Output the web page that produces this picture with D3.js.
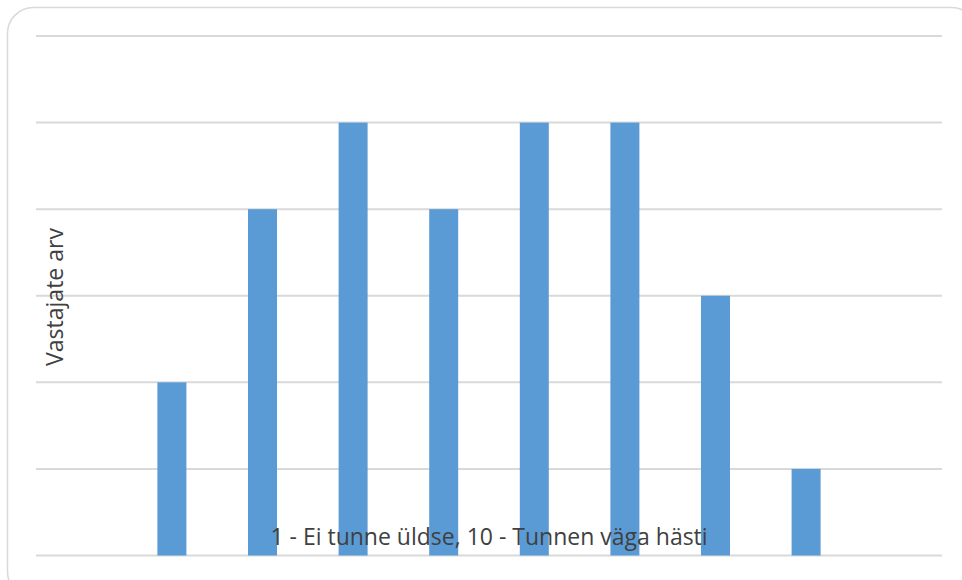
<!DOCTYPE html>
<html>
    <head>
        <meta charset="utf-8">
        <title>Vastajate arv</title>
        <script src="https://d3js.org/d3.v7.min.js" charset="utf-8"></script>
        <style type="text/css">
        body {
            margin: 0;
            background: white;
        }
        svg text {
            font-family: 'Open Sans', 'Noto Sans', sans-serif;
            fill: #404040;
        }
        </style>
    </head>
    <body>
        <script type="text/javascript">
        // answers 1..10, respondents per answer
        var categories = ['1', '2', '3', '4', '5', '6', '7', '8', '9', '10'];
        var counts = [0, 2, 4, 5, 4, 5, 5, 3, 1, 0];
        var yTicks = [0, 1, 2, 3, 4, 5, 6];

        var xTitle = '1 - Ei tunne üldse, 10 - Tunnen väga hästi';
        var yTitle = 'Vastajate arv';

        var w = 962;
        var h = 580;
        var margin = {left: 36, right: 20, top: 36, bottom: 24.5};

        var svg = d3.select('body')
          .append('svg')
          .attr('width', w)
          .attr('height', h);

        // chart frame, runs off the right and bottom edge
        svg.append('rect')
          .attr('x', 7.5)
          .attr('y', 7.5)
          .attr('width', 970)
          .attr('height', 590)
          .attr('rx', 26)
          .attr('fill', 'white')
          .attr('stroke', '#d9d9d9')
          .attr('stroke-width', 1.5);

        var x = d3.scaleBand()
          .domain(categories)
          .range([margin.left, w - margin.right])
          .paddingInner(0.68)
          .paddingOuter(0.34);

        var y = d3.scaleLinear()
          .domain([0, 6])
          .range([h - margin.bottom, margin.top]);

        // gridlines
        svg.append('g')
          .selectAll('line')
          .data(yTicks)
          .enter()
          .append('line')
          .attr('x1', margin.left)
          .attr('x2', w - margin.right)
          .attr('y1', function(d){ return y(d); })
          .attr('y2', function(d){ return y(d); })
          .attr('stroke', '#d9d9d9')
          .attr('stroke-width', 2);

        svg.append('g')
          .selectAll('rect')
          .data(counts)
          .enter()
          .append('rect')
          .attr('x', function(d, i){ return x(categories[i]); })
          .attr('y', function(d){ return y(d); })
          .attr('width', x.bandwidth())
          .attr('height', function(d){ return y(0) - y(d); })
          .attr('fill', '#5b9bd5');

        svg.append('text')
          .text(xTitle)
          .attr('x', 489)
          .attr('y', 545)
          .attr('text-anchor', 'middle')
          .style('font-size', '23px');

        svg.append('text')
          .text(yTitle)
          .attr('transform', 'translate(63,297) rotate(-90)')
          .attr('text-anchor', 'middle')
          .style('font-size', '23px');
        </script>
    </body>
</html>
